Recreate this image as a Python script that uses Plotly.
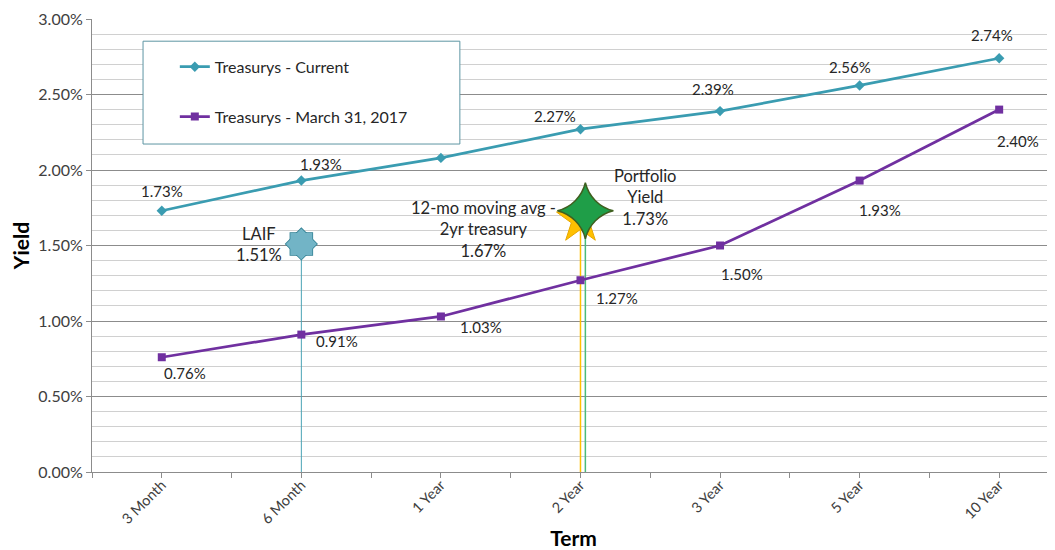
import plotly.graph_objects as go

terms = ["3 Month", "6 Month", "1 Year", "2 Year", "3 Year", "5 Year", "10 Year"]
current = [0.0173, 0.0193, 0.0208, 0.0227, 0.0239, 0.0256, 0.0274]
current_labels = ["1.73%", "1.93%", "", "2.27%", "2.39%", "2.56%", "2.74%"]
march2017 = [0.0076, 0.0091, 0.0103, 0.0127, 0.0150, 0.0193, 0.0240]
march_labels = ["0.76%", "0.91%", "1.03%", "1.27%", "1.50%", "1.93%", "2.40%"]

laif_x, laif_y = 1, 0.0151
avg_x, avg_y = 3.0, 0.0167
port_x, port_y = 3.035, 0.0173

# label offsets in pixels (style only)
cur_off = [(0, 20), (20, 17), (0, 0), (-25, 13), (-7, 22), (-10, 18), (-7, 23)]
mar_off = [(23, -16), (36, -6), (40, -11), (37, -18), (22, -28), (20, -29), (19, -31)]

TEAL = "#3a9cb1"
PURPLE = "#7030a0"
FONT = "Lato"
xs = list(range(len(terms)))

fig = go.Figure()

# drop lines
fig.add_trace(go.Scatter(x=[laif_x, laif_x], y=[laif_y, 0], mode="lines",
                         line=dict(color="#4aa3b5", width=1), showlegend=False, hoverinfo="skip"))
fig.add_trace(go.Scatter(x=[avg_x, avg_x], y=[avg_y, 0], mode="lines",
                         line=dict(color="#ffc000", width=1.5), showlegend=False, hoverinfo="skip"))
fig.add_trace(go.Scatter(x=[port_x, port_x], y=[port_y, 0], mode="lines",
                         line=dict(color="#4cbb7a", width=1.5), showlegend=False, hoverinfo="skip"))

fig.add_trace(go.Scatter(x=xs, y=current, mode="lines+markers", name="Treasurys - Current",
                         legendgroup="a",
                         line=dict(color=TEAL, width=2.75),
                         marker=dict(symbol="diamond", size=8, color=TEAL)))
fig.add_trace(go.Scatter(x=xs, y=march2017, mode="lines+markers", name="Treasurys - March 31, 2017",
                         legendgroup="b",
                         line=dict(color=PURPLE, width=2.75),
                         marker=dict(symbol="square", size=8, color=PURPLE)))

# LAIF 8-point star: two rotated squares, outlines then fills
for ang, lw in [(0, 1.5), (45, 1.5), (0, 0), (45, 0)]:
    fig.add_trace(go.Scatter(x=[laif_x], y=[laif_y], mode="markers", showlegend=False, hoverinfo="skip",
                             marker=dict(symbol="square", size=22, angle=ang, color="#72b4c6",
                                         line=dict(color="#2f7f92", width=lw))))
# 12-mo avg star
fig.add_trace(go.Scatter(x=[avg_x], y=[avg_y], mode="markers", showlegend=False, hoverinfo="skip",
                         marker=dict(symbol="star", size=36, color="#ffc000",
                                     line=dict(color="#e8a800", width=1))))
# Portfolio star
fig.add_trace(go.Scatter(x=[port_x], y=[port_y], mode="markers", showlegend=False, hoverinfo="skip",
                         marker=dict(symbol="star-diamond", size=40, color="#1f9e48",
                                     line=dict(color="#3f5f1f", width=1.5))))

LBL = dict(family=FONT, size=15, color="#262626")
ann = []
for i, (v, t) in enumerate(zip(current, current_labels)):
    if t:
        ann.append(dict(x=i, y=v, text=t, showarrow=False, xshift=cur_off[i][0], yshift=cur_off[i][1],
                        font=LBL))
for i, (v, t) in enumerate(zip(march2017, march_labels)):
    ann.append(dict(x=i, y=v, text=t, showarrow=False, xshift=mar_off[i][0], yshift=mar_off[i][1],
                    font=LBL))

BIG = dict(family=FONT, size=16.5, color="#262626")
ann.append(dict(x=laif_x, y=laif_y, text="LAIF<br>1.51%", showarrow=False, xshift=-42, yshift=-1, font=BIG))
ann.append(dict(x=avg_x, y=avg_y, text="12-mo moving avg -<br>2yr treasury<br>1.67%", showarrow=False,
                xshift=-97, yshift=-10, font=BIG))
ann.append(dict(x=port_x, y=port_y, text="Portfolio<br>Yield<br>1.73%", showarrow=False,
                xshift=60, yshift=13, font=BIG))

# page body has an 8px margin, so the figure is sized to fill the remaining window
fig.update_layout(
    width=1047, height=542,
    margin=dict(l=84, r=0, t=11, b=78, autoexpand=False),
    paper_bgcolor="white", plot_bgcolor="white",
    font=dict(family=FONT, color="#404040"),
    annotations=ann,
    showlegend=True,
    legend=dict(x=0.086, y=0.932, xanchor="left", yanchor="top", bgcolor="rgba(0,0,0,0)",
                borderwidth=0, tracegroupgap=26, itemwidth=30,
                font=dict(family=FONT, size=16, color="#262626")),
    shapes=[dict(type="rect", xref="paper", yref="paper", x0=0.053, x1=0.382, y0=0.724, y1=0.951,
                 fillcolor="white", line=dict(color="#5d95a3", width=1), layer="above")],
)

fig.update_xaxes(
    range=[-0.5, 6.4], tickmode="array", tickvals=xs, ticktext=terms, tickangle=-45,
    automargin=False, ticklabelstandoff=-7,
    showgrid=False, showline=True, linecolor="#8c8c8c", linewidth=1,
    ticks="outside", ticklen=5, tickcolor="#8c8c8c",
    minor=dict(ticks="outside", tick0=-0.5, dtick=0.5, ticklen=5, tickcolor="#8c8c8c"),
    tickfont=dict(family=FONT, size=14.5, color="#404040"),
    title=dict(text="<b>Term</b>", font=dict(family=FONT, size=21, color="black"), standoff=7),
    zeroline=False,
)
fig.update_yaxes(
    range=[0, 0.03], dtick=0.005, tickformat=".2%",
    automargin=False,
    showgrid=True, gridcolor="#8c8c8c", gridwidth=1,
    minor=dict(dtick=0.001, showgrid=True, gridcolor="#d0d0d0", gridwidth=1),
    showline=True, linecolor="#8c8c8c", linewidth=1,
    ticks="outside", ticklen=5, tickcolor="#8c8c8c",
    tickfont=dict(family=FONT, size=16, color="#404040"),
    title=dict(text="<b>Yield</b>", font=dict(family=FONT, size=21, color="black"), standoff=5),
    zeroline=False,
)

fig.write_html("out.html")
